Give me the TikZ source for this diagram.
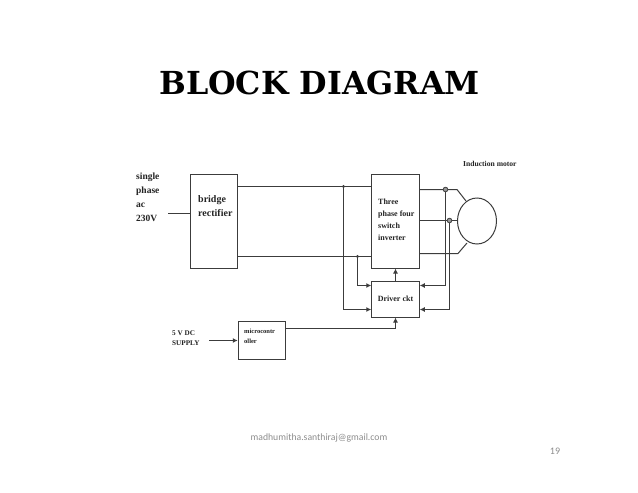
\documentclass[tikz,border=0pt]{standalone}
\usepackage{fontspec}
\setmainfont{Liberation Serif}
\newfontfamily\titlefont{DejaVu Serif}
\newfontfamily\footfont{Carlito}
\usetikzlibrary{arrows.meta,positioning,calc,shapes.geometric}
\definecolor{bdedge}{RGB}{60,60,60}
\definecolor{bdink}{RGB}{35,35,35}
\definecolor{bdfoot}{RGB}{140,140,140}
\definecolor{bdtap}{RGB}{150,150,150}
\tikzset{
  blockbox/.style={
    draw=bdedge, line width=1pt, minimum width=47.5pt, inner sep=0pt
  },
  lbl/.style={font=\bfseries, text=bdink, align=left, inner sep=0pt},
  wire/.style={draw=bdedge, line width=1pt},
  arr/.style={wire, -{Latex[length=5pt,width=5pt]}},
  dotj/.style={circle, fill=bdedge, inner sep=0pt, minimum size=3.2pt},
  tap/.style={circle, draw=bdedge, fill=bdtap, line width=0.8pt, inner sep=0pt, minimum size=4.6pt},
  foot/.style={font=\footfont, text=bdfoot, inner sep=0pt}
}

\begin{document}
\begin{tikzpicture}[x=1pt, y=-1pt, node distance=12pt and 10pt]
  \useasboundingbox (0,0) rectangle (638,493);

  \node[inner sep=0pt, font=\titlefont\bfseries\fontsize{31.7}{34}\selectfont] (title) at (319.5,83) {BLOCK DIAGRAM};

  % blocks
  \node[blockbox, minimum height=94pt] (bridge) at (214,221) {};
  \node[blockbox, minimum height=94pt] (inv) at (395.5,221) {};
  \node[blockbox, minimum height=36pt, below=12pt of inv] (drv) {};
  \node[blockbox, minimum height=38pt] (micro) at (262,340) {};
  \node[draw=bdedge, line width=1pt, ellipse, minimum width=39pt, minimum height=46pt, inner sep=0pt] (motor) at (477,221) {};

  % texts
  \node[lbl, anchor=west, font=\bfseries\fontsize{9.5}{14}\selectfont] (lblin) at (136,197) {single\\phase\\ac\\230V};
  \node[lbl, anchor=west, font=\bfseries\fontsize{10}{14}\selectfont] (lblbridge) at (198,206) {bridge\\rectifier};
  \node[lbl, anchor=west, font=\bfseries\fontsize{8}{12}\selectfont] (lblinv) at (378,219.5) {Three\\phase four\\switch\\inverter};
  \node[lbl, font=\bfseries\fontsize{8}{10}\selectfont] (lbldrv) at (drv.center) {Driver ckt};
  \node[lbl, anchor=west, font=\bfseries\fontsize{6.5}{10}\selectfont] (lblmicro) at (244,336) {microcontr\\oller};
  \node[lbl, anchor=west, font=\bfseries\fontsize{7.2}{10}\selectfont] (lbldc) at (172,338) {5 V DC\\SUPPLY};
  \node[lbl, anchor=west, font=\bfseries\fontsize{7.6}{10}\selectfont] (lblmotor) at (463,164) {Induction motor};
  \node[foot, font=\footfont\fontsize{9.7}{13}\selectfont] (mail) at (319,438) {madhumitha.santhiraj@gmail.com};
  \node[foot, font=\footfont\fontsize{10}{13}\selectfont] (page) at (555,451) {19};

  % free ends and junctions
  \coordinate (acin) at (168,213.5);
  \coordinate (dcin) at (209,340.5);
  \node[dotj] (jtop) at (343.5,186.5) {};
  \node[dotj] (jbot) at (357.5,256.5) {};
  \node[tap] (ja) at (445.5,189.5) {};
  \node[tap] (jb) at (449.5,220.5) {};
  \coordinate (benda) at (457,189.5);
  \coordinate (bendc) at (458,253.5);
  \coordinate (micb) at (395.5,328.5);

  % supply rails
  \draw[wire] (acin) -- (bridge.west |- acin);
  \draw[arr] (dcin) -- (micro.west |- dcin);
  \draw[wire] (bridge.east |- jtop) -- (jtop.center) -- (inv.west |- jtop);
  \draw[wire] (bridge.east |- jbot) -- (jbot.center) -- (inv.west |- jbot);

  % inverter to motor
  \draw[wire] (inv.east |- ja) -- (ja) (ja) -- (benda) -- (466,201);
  \draw[wire] (inv.east |- jb) -- (jb) (jb) -- (motor.west |- jb);
  \draw[wire] (inv.east |- bendc) -- (bendc) -- (467,243);

  % driver inputs
  \draw[arr] (jtop.center) |- (drv.west |- 0,309.5);
  \draw[arr] (jbot.center) |- (drv.west |- 0,285.5);
  \draw[arr] (ja) |- (drv.east |- 0,285.5);
  \draw[arr] (jb) |- (drv.east |- 0,309.5);
  \draw[arr] (drv) -- (inv);
  \draw[arr] (micro.east |- micb) -- (micb) -- (drv.south);
\end{tikzpicture}
\end{document}
